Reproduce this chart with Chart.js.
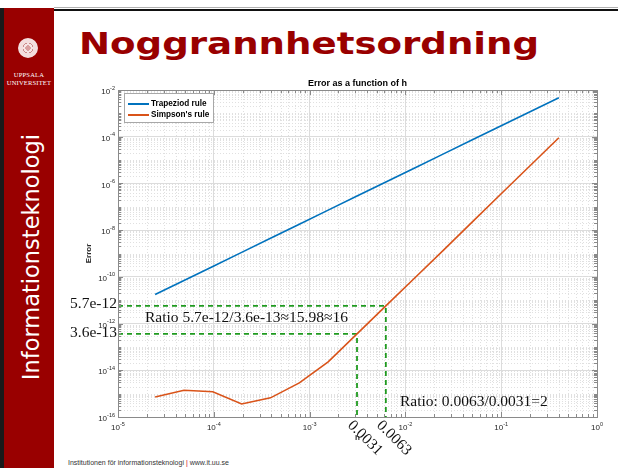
<!DOCTYPE html>
<html><head><meta charset="utf-8">
<script src="https://cdn.jsdelivr.net/npm/chart.js@4/dist/chart.umd.min.js"></script>
<style>
html,body{margin:0;padding:0;width:618px;height:468px;overflow:hidden;background:#fff;}
#sideblack{position:absolute;left:0;top:8px;width:4px;height:460px;background:#1a1a1a;}
#side{position:absolute;left:4px;top:8px;width:50px;height:460px;background:#990000;}
#topgray{position:absolute;left:54px;top:7px;width:564px;height:1px;background:#b0b0b0;}
#topblack{position:absolute;left:54px;top:9px;width:564px;height:2px;background:#111;}
#title{position:absolute;left:79px;top:28px;font:bold 31px 'DejaVu Sans';line-height:31px;color:#990000;white-space:nowrap;transform-origin:0 0;}
#vert{position:absolute;left:31px;top:257px;font:22.5px 'DejaVu Sans';line-height:24px;color:#fff;white-space:nowrap;transform:translate(-50%,-50%) rotate(-90deg);}
#seal{position:absolute;left:18px;top:38px;width:20px;height:20px;border-radius:50%;
 background:radial-gradient(circle,#d9a0a0 0 18%,#f6e6e6 19% 32%,#cc8c8c 33% 38%,#f3dede 39% 70%,#d7a3a3 71% 76%,#f8eaea 77% 100%);}
.uu{position:absolute;left:4px;width:50px;text-align:center;font:6.5px 'Liberation Serif';color:#fff;letter-spacing:0.2px;}
#foot{position:absolute;left:68px;top:459px;font:7px 'Liberation Sans';color:#333;white-space:nowrap;}
#foot span{color:#c00;}
#c{position:absolute;left:0;top:0;}
</style></head>
<body>
<div id="sideblack"></div><div id="side"></div>
<div id="topgray"></div><div id="topblack"></div>
<div id="seal"></div>
<div class="uu" style="top:71px">UPPSALA</div>
<div class="uu" style="top:79px">UNIVERSITET</div>
<div id="vert">Informationsteknologi</div>
<div id="title">Noggrannhetsordning</div>
<div id="foot">Institutionen för informationsteknologi <span>|</span> www.it.uu.se</div>
<canvas id="c" width="618" height="468"></canvas>
<script>
// ---- data ----
const hValues = [2.441e-5, 4.883e-5, 9.766e-5, 1.953e-4, 3.906e-4, 7.813e-4, 1.5625e-3, 3.125e-3, 6.25e-3, 1.25e-2, 2.5e-2, 5e-2, 0.1, 0.2, 0.4];
const trapezoidError = [1.75e-11, 7.0e-11, 2.8e-10, 1.12e-9, 4.5e-9, 1.8e-8, 7.2e-8, 2.87e-7, 1.15e-6, 4.6e-6, 1.84e-5, 7.35e-5, 2.94e-4, 1.18e-3, 4.7e-3];
const simpsonError = [7.2e-16, 1.4e-15, 1.2e-15, 3.6e-16, 6.6e-16, 2.9e-15, 2.3e-14, 3.6e-13, 5.7e-12, 8.9e-11, 1.4e-9, 2.25e-8, 3.6e-7, 5.7e-6, 9.0e-5];
const seriesLabels = ['Trapeziod rule', "Simpson's rule"];
const seriesColors = ['#0072BD', '#D95319'];
const xTickExponents = [-5, -4, -3, -2, -1, 0];
const yTickExponents = [-2, -4, -6, -8, -10, -12, -14, -16];
const markedH = [0.003125, 0.00625];
const markedHLabels = ['0.0031', '0.0063'];
const markedErr = [3.6e-13, 5.7e-12];
const markedErrLabels = ['3.6e-13', '5.7e-12'];
const ratioText = 'Ratio 5.7e-12/3.6e-13\u224815.98\u224816';
const hRatioText = 'Ratio: 0.0063/0.0031=2';
const chartTitle = 'Error as a function of h';
const xLabel = 'h';
const yLabel = 'Error';
const xMin = 1e-5, xMax = 1, yMin = 1e-16, yMax = 1e-2;

// title width fit
(function(){const t=document.getElementById('title');const w=t.offsetWidth;t.style.transform='scaleX('+(460/w)+')';})();

const GREEN = '#1f9a1f';
const toPts = (xs, ys) => xs.map((x, i) => ({x: x, y: ys[i]}));
const guide = (i) => ({label: 'guide' + i, data: [{x: xMin, y: markedErr[i]}, {x: markedH[i], y: markedErr[i]}, {x: markedH[i], y: yMin}],
  borderColor: GREEN, borderDash: [5, 4], borderWidth: 1.8, pointRadius: 0, fill: false, tension: 0});

function minorVals(lo, hi) {
  const out = [];
  for (let e = Math.floor(Math.log10(lo)); e <= Math.ceil(Math.log10(hi)); e++) {
    for (let m = 1; m <= 9; m++) { const v = m * Math.pow(10, e); if (v >= lo * 0.999 && v <= hi * 1.001) out.push(v); }
  }
  return out;
}
function drawPow(ctx, exp, x, y, align) {
  const base = '10', sup = String(exp);
  ctx.font = '8px "Liberation Sans"'; const wb = ctx.measureText(base).width;
  ctx.font = '5.5px "Liberation Sans"'; const ws = ctx.measureText(sup).width;
  const total = wb + ws;
  const x0 = align === 'right' ? x - total : x - total / 2;
  ctx.textAlign = 'left'; ctx.textBaseline = 'middle'; ctx.fillStyle = '#262626';
  ctx.font = '8px "Liberation Sans"'; ctx.fillText(base, x0, y);
  ctx.font = '5.5px "Liberation Sans"'; ctx.fillText(sup, x0 + wb, y - 4);
}

const decor = {
  id: 'decor',
  beforeDatasetsDraw(chart) {
    const {ctx, chartArea: a, scales: {x, y}} = chart;
    ctx.save();
    ctx.strokeStyle = '#e0e0e0'; ctx.lineWidth = 1; ctx.setLineDash([1, 2]);
    const xMaj = xTickExponents.map(e => Math.pow(10, e));
    minorVals(xMin, xMax).forEach(v => {
      if (xMaj.some(m => Math.abs(m - v) / m < 1e-6)) return;
      const px = Math.round(x.getPixelForValue(v)) + 0.5;
      ctx.beginPath(); ctx.moveTo(px, a.top); ctx.lineTo(px, a.bottom); ctx.stroke();
    });
    const yMaj = yTickExponents.map(e => Math.pow(10, e));
    minorVals(yMin, yMax).forEach(v => {
      if (yMaj.some(m => Math.abs(m - v) / m < 1e-6)) return;
      const py = Math.round(y.getPixelForValue(v)) + 0.5;
      ctx.beginPath(); ctx.moveTo(a.left, py); ctx.lineTo(a.right, py); ctx.stroke();
    });
    ctx.restore();
  },
  afterDraw(chart) {
    const {ctx, chartArea: a, scales: {x, y}} = chart;
    ctx.save();
    ctx.strokeStyle = '#8a8a8a'; ctx.lineWidth = 1; ctx.setLineDash([]);
    ctx.strokeRect(Math.round(a.left) + 0.5, Math.round(a.top) + 0.5, Math.round(a.right - a.left), Math.round(a.bottom - a.top));
    const xMaj = xTickExponents.map(e => Math.pow(10, e));
    const yMaj = yTickExponents.map(e => Math.pow(10, e));
    minorVals(xMin, xMax).forEach(v => {
      const major = xMaj.some(m => Math.abs(m - v) / m < 1e-6);
      const L = major ? 5 : 3;
      const px = Math.round(x.getPixelForValue(v)) + 0.5;
      ctx.beginPath(); ctx.moveTo(px, a.bottom); ctx.lineTo(px, a.bottom - L);
      ctx.moveTo(px, a.top); ctx.lineTo(px, a.top + L); ctx.stroke();
    });
    minorVals(yMin, yMax).forEach(v => {
      const major = yMaj.some(m => Math.abs(m - v) / m < 1e-6);
      const L = major ? 5 : 3;
      const py = Math.round(y.getPixelForValue(v)) + 0.5;
      ctx.beginPath(); ctx.moveTo(a.left, py); ctx.lineTo(a.left + L, py);
      ctx.moveTo(a.right, py); ctx.lineTo(a.right - L, py); ctx.stroke();
    });
    xTickExponents.forEach(e => drawPow(ctx, e, x.getPixelForValue(Math.pow(10, e)), a.bottom + 11, 'center'));
    yTickExponents.forEach(e => drawPow(ctx, e, a.left - 3, y.getPixelForValue(Math.pow(10, e)) + 2, 'right'));
    ctx.fillStyle = '#000'; ctx.font = 'bold 9px "Liberation Sans"'; ctx.textAlign = 'center'; ctx.textBaseline = 'middle';
    ctx.fillText(chartTitle, (a.left + a.right) / 2, a.top - 6);
    ctx.font = 'bold 8px "Liberation Sans"'; ctx.fillStyle = '#262626';
    ctx.fillText(xLabel, (a.left + a.right) / 2, a.bottom + 21);
    ctx.save(); ctx.translate(a.left - 29, (a.top + a.bottom) / 2); ctx.rotate(-Math.PI / 2);
    ctx.fillText(yLabel, 0, 0); ctx.restore();
    const lx = a.left + 6, ly = a.top + 3, lw = 89, lh = 29;
    ctx.fillStyle = '#fff'; ctx.fillRect(lx, ly, lw, lh);
    ctx.strokeStyle = '#a8a8a8'; ctx.strokeRect(lx + 0.5, ly + 0.5, lw, lh);
    seriesLabels.forEach((lab, i) => {
      const yy = ly + 11 + i * 11;
      ctx.strokeStyle = seriesColors[i]; ctx.lineWidth = 2;
      ctx.beginPath(); ctx.moveTo(lx + 4, yy); ctx.lineTo(lx + 25, yy); ctx.stroke();
      ctx.fillStyle = '#000'; ctx.font = 'bold 8.2px "Liberation Sans"'; ctx.textAlign = 'left'; ctx.textBaseline = 'middle';
      ctx.fillText(lab, lx + 27, yy);
    });
    ctx.fillStyle = '#111'; ctx.font = '15.5px "Liberation Serif"'; ctx.textBaseline = 'middle';
    ctx.textAlign = 'right';
    markedErr.forEach((v, i) => ctx.fillText(markedErrLabels[i], a.left - 1, y.getPixelForValue(v) - 1.5));
    ctx.textAlign = 'left';
    ctx.fillText(ratioText, 145, (y.getPixelForValue(markedErr[0]) + y.getPixelForValue(markedErr[1])) / 2 - 2);
    ctx.fillText(hRatioText, 400, 402);
    markedH.forEach((v, i) => {
      ctx.save(); ctx.translate(x.getPixelForValue(v) - 7, a.bottom + 6); ctx.rotate(Math.PI / 4);
      ctx.fillText(markedHLabels[i], 0, 0); ctx.restore();
    });
    ctx.restore();
  }
};

new Chart(document.getElementById('c'), {
  type: 'line',
  data: {
    datasets: [
      {label: seriesLabels[0], data: toPts(hValues, trapezoidError), borderColor: seriesColors[0], borderWidth: 1.6, pointRadius: 0, fill: false, tension: 0},
      {label: seriesLabels[1], data: toPts(hValues, simpsonError), borderColor: seriesColors[1], borderWidth: 1.6, pointRadius: 0, fill: false, tension: 0},
      guide(1), guide(0)
    ]
  },
  options: {
    responsive: false, animation: false, devicePixelRatio: 1,
    layout: {padding: {left: 0, right: 21, top: 90, bottom: 0}},
    plugins: {legend: {display: false}, title: {display: false}, tooltip: {enabled: false}},
    scales: {
      x: {type: 'logarithmic', min: xMin, max: xMax, position: 'bottom',
        afterBuildTicks: s => { s.ticks = xTickExponents.map(e => ({value: Math.pow(10, e)})); },
        afterFit: s => { s.height = 51; },
        ticks: {display: false}, border: {display: false},
        grid: {color: '#dcdcdc', lineWidth: 1, drawTicks: false}},
      y: {type: 'logarithmic', min: yMin, max: yMax, position: 'left',
        afterBuildTicks: s => { s.ticks = yTickExponents.map(e => ({value: Math.pow(10, e)})); },
        afterFit: s => { s.width = 118; },
        ticks: {display: false}, border: {display: false},
        grid: {color: '#dcdcdc', lineWidth: 1, drawTicks: false}}
    }
  },
  plugins: [decor]
});
</script>
</body></html>
